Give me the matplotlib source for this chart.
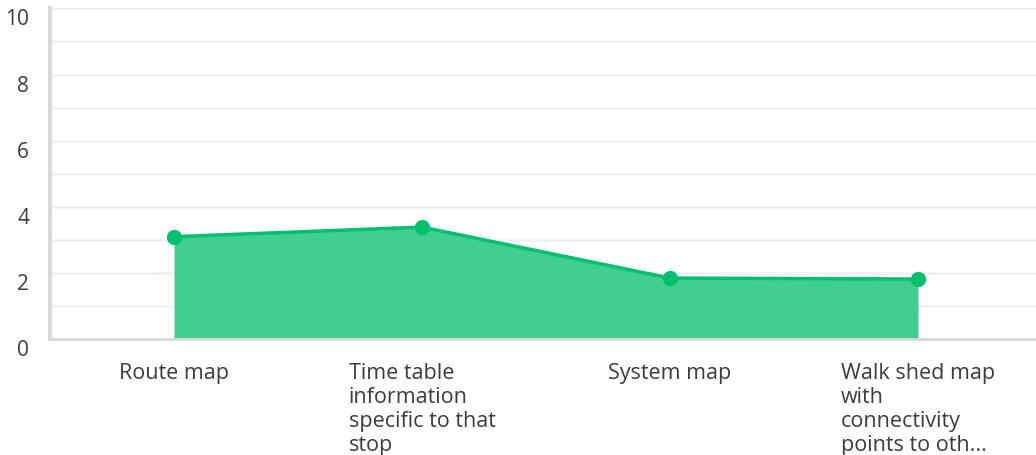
import matplotlib
matplotlib.use('Agg')
import matplotlib.pyplot as plt
import matplotlib.transforms as mtransforms
import numpy as np

# average ratings for each map type
categories = ["Route map",
              "Time table\ninformation\nspecific to that\nstop",
              "System map",
              "Walk shed map\nwith\nconnectivity\npoints to oth..."]
scores = [3.10, 3.39, 1.85, 1.82]
yticks = [0, 2, 4, 6, 8, 10]

green = "#00bf6f"
fill_green = "#40cf90"
grid_grey = "#f0f0f0"
axis_grey = "#d9d9d9"
text_col = "#3c3c3c"

plt.rcParams['font.family'] = ['Open Sans', 'DejaVu Sans']

fig = plt.figure(figsize=(10.36, 4.56), dpi=100)
# axes runs slightly past the right edge so the last band is cut off
ax = fig.add_axes([50 / 1036, 1 - 340.3 / 456, 992 / 1036, 331 / 456])

x = np.arange(len(categories))
ax.fill_between(x, scores, 0, color=fill_green, linewidth=0, zorder=2)
ax.plot(x, scores, color=green, lw=2.5, marker='o', ms=10, zorder=3)

ax.set_xlim(-0.5, len(categories) - 0.5)
ax.set_ylim(0, 10)

# horizontal grid every unit, labels only on even values
for v in range(1, 11):
    ax.axhline(v, color=grid_grey, lw=1.8, zorder=1)

ax.set_yticks(yticks)
ax.set_yticklabels([str(t) for t in yticks], fontsize=15, color=text_col)
ax.tick_params(axis='y', length=0, pad=15)
offset = mtransforms.ScaledTranslation(0, -8 / 100, fig.dpi_scale_trans)
for lab in ax.get_yticklabels():
    lab.set_transform(lab.get_transform() + offset)

ax.set_xticks([])
for xi, name in zip(x, categories):
    ax.text(xi, -0.7, name, ha='center', va='top', multialignment='left',
            fontsize=15.5, color=text_col, linespacing=1.17,
            transform=ax.transData, clip_on=False)

for side in ['top', 'right']:
    ax.spines[side].set_visible(False)
ax.spines['left'].set_color(axis_grey)
ax.spines['left'].set_linewidth(3)
ax.spines['bottom'].set_color(axis_grey)
ax.spines['bottom'].set_linewidth(2)

fig.savefig("out.png", dpi=100, facecolor='white')
